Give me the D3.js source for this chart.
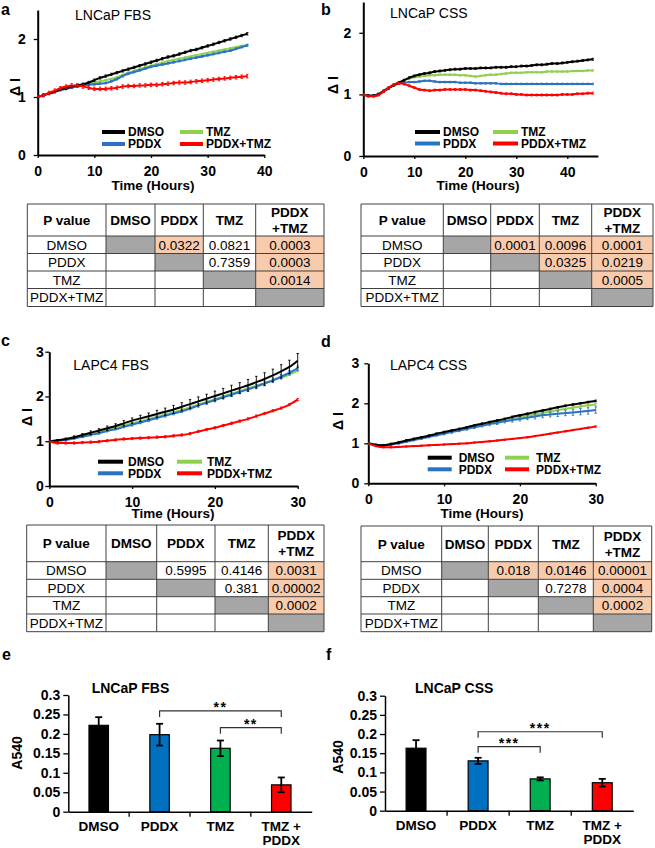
<!DOCTYPE html>
<html><head><meta charset="utf-8">
<script src="https://cdn.jsdelivr.net/npm/d3@7"></script>
<style>body{margin:0;background:#fff}svg text{font-family:"Liberation Sans",Arial,sans-serif}</style>
</head><body>
<svg id="fig" width="655" height="848"></svg>
<script>
// ---------------- DATA ----------------
const seriesNames = ["DMSO", "PDDX", "TMZ", "PDDX+TMZ"];
const lineColors = ["#000000", "#2a72c2", "#8fd14f", "#ff0000"];
const barColors = ["#000000", "#0070c0", "#00b050", "#ff0000"];

// Panel a: LNCaP FBS (hourly, 0-37 h)
const aHours = d3.range(0, 38);
const aDMSO = [1.00,1.03,1.06,1.09,1.13,1.15,1.18,1.20,1.22,1.25, 1.29,1.33,1.36,1.39,1.42,1.45,1.48,1.51,1.54,1.57, 1.60,1.63,1.66,1.69,1.71,1.74,1.77,1.80,1.82,1.85, 1.88,1.91,1.94,1.97,2.00,2.03,2.06,2.09];
const aPDDX = [1.00,1.03,1.06,1.09,1.12,1.14,1.16,1.18,1.20,1.21, 1.22,1.23,1.24,1.27,1.31,1.36,1.40,1.43,1.46,1.49, 1.52,1.54,1.56,1.58,1.60,1.62,1.64,1.66,1.68,1.70, 1.72,1.74,1.76,1.78,1.80,1.83,1.86,1.89];
const aTMZ  = [1.00,1.03,1.06,1.09,1.12,1.15,1.17,1.19,1.21,1.23, 1.25,1.27,1.29,1.31,1.34,1.38,1.42,1.45,1.48,1.51, 1.54,1.57,1.59,1.62,1.64,1.66,1.68,1.70,1.72,1.74, 1.76,1.78,1.80,1.82,1.84,1.86,1.88,1.90];
const aCombo= [1.00,1.03,1.07,1.11,1.15,1.18,1.20,1.20,1.18,1.16, 1.14,1.14,1.14,1.15,1.16,1.18,1.19,1.19,1.20,1.20, 1.21,1.21,1.22,1.23,1.24,1.25,1.25,1.26,1.27,1.28, 1.29,1.30,1.31,1.32,1.33,1.34,1.35,1.36];
const aErr = [0.02, 0.015, 0.012, 0.03];

// Panel b: LNCaP CSS (hourly, 0-45 h)
const bHours = d3.range(0, 46);
const bDMSO = [1.00,0.98,0.98,1.00,1.05,1.10,1.15,1.19,1.23,1.27, 1.30,1.32,1.34,1.35,1.37,1.38,1.39,1.40,1.41,1.41, 1.42,1.42,1.42,1.43,1.43,1.43,1.44,1.44,1.44,1.45, 1.45,1.46,1.46,1.47,1.48,1.48,1.49,1.50,1.50,1.51, 1.52,1.53,1.54,1.55,1.56,1.57];
const bPDDX = [1.00,0.98,0.98,1.01,1.06,1.11,1.15,1.18,1.19,1.20, 1.20,1.21,1.22,1.22,1.21,1.20,1.20,1.20,1.20,1.19, 1.19,1.19,1.18,1.18,1.18,1.18,1.18,1.17,1.17,1.17, 1.17,1.17,1.17,1.17,1.17,1.17,1.17,1.17,1.17,1.17, 1.17,1.17,1.17,1.17,1.17,1.17];
const bTMZ  = [1.00,0.98,0.98,1.01,1.06,1.11,1.16,1.20,1.23,1.26, 1.28,1.29,1.30,1.31,1.31,1.32,1.32,1.32,1.32,1.31, 1.31,1.30,1.29,1.30,1.31,1.32,1.32,1.33,1.34,1.35, 1.35,1.35,1.36,1.36,1.36,1.36,1.37,1.37,1.37,1.37, 1.37,1.38,1.38,1.38,1.39,1.39];
const bCombo= [1.00,0.97,0.97,0.99,1.05,1.11,1.16,1.18,1.17,1.14, 1.11,1.08,1.07,1.06,1.07,1.07,1.08,1.08,1.08,1.08, 1.08,1.07,1.07,1.06,1.05,1.04,1.03,1.02,1.01,1.01, 1.00,1.00,0.99,0.99,0.99,0.99,0.99,0.99,0.99,1.00, 1.00,1.00,1.01,1.01,1.02,1.02];
const bErr = [0.015, 0.012, 0.012, 0.015];

// Panel c: LAPC4 FBS (hourly, 0-30 h)
const cHours = d3.range(0, 31);
const cDMSO = [1.00,1.02,1.05,1.09,1.14,1.19,1.24,1.29,1.34,1.40, 1.46,1.51,1.56,1.61,1.66,1.71,1.77,1.83,1.89,1.95, 2.01,2.07,2.13,2.19,2.25,2.32,2.39,2.47,2.56,2.66, 2.80];
const cPDDX = [1.00,1.01,1.03,1.06,1.10,1.14,1.18,1.23,1.27,1.32, 1.37,1.42,1.47,1.52,1.57,1.62,1.67,1.73,1.80,1.86, 1.92,1.98,2.04,2.10,2.16,2.22,2.29,2.36,2.44,2.53, 2.63];
const cTMZ  = [1.00,1.02,1.05,1.09,1.13,1.17,1.22,1.26,1.30,1.35, 1.40,1.45,1.50,1.55,1.60,1.65,1.70,1.76,1.82,1.88, 1.94,2.00,2.06,2.12,2.18,2.24,2.30,2.36,2.42,2.49, 2.57];
const cCombo= [1.00,0.96,0.96,0.96,0.97,0.98,0.99,1.01,1.03,1.05, 1.06,1.07,1.08,1.09,1.10,1.12,1.14,1.17,1.22,1.26, 1.30,1.35,1.40,1.45,1.50,1.56,1.62,1.68,1.74,1.82, 1.93];
const cDMSOerr = [0,.02,.02,.03,.03,.04,.04,.05,.05,.06, .06,.07,.07,.08,.08,.09,.09,.10,.10,.10, .11,.11,.12,.12,.13,.13,.14,.14,.15,.15, .16];
const cPDDXerr = [0,.01,.01,.01,.02,.02,.02,.02,.02,.02, .03,.03,.03,.03,.03,.03,.03,.03,.04,.04, .04,.04,.04,.04,.05,.05,.05,.05,.05,.05, .05];
const cErr = [cDMSOerr, cPDDXerr, 0.02, 0.025];

// Panel d: LAPC4 CSS (hourly, 0-30 h)
const dHours = d3.range(0, 31);
const dDMSO = [1.00,0.96,0.95,0.98,1.02,1.07,1.11,1.15,1.19,1.24, 1.28,1.32,1.36,1.40,1.45,1.49,1.53,1.57,1.61,1.66, 1.70,1.74,1.78,1.82,1.86,1.90,1.94,1.97,2.00,2.03, 2.06];
const dPDDX = [1.00,0.96,0.95,0.97,1.00,1.04,1.08,1.12,1.16,1.20, 1.24,1.28,1.32,1.36,1.40,1.44,1.48,1.51,1.55,1.58, 1.61,1.64,1.67,1.70,1.72,1.74,1.76,1.77,1.79,1.81, 1.83];
const dTMZ  = [1.00,0.96,0.95,0.98,1.02,1.06,1.10,1.14,1.18,1.22, 1.26,1.30,1.34,1.38,1.42,1.46,1.50,1.54,1.58,1.62, 1.65,1.69,1.72,1.76,1.79,1.83,1.86,1.89,1.92,1.95, 1.97];
const dCombo= [1.00,0.93,0.90,0.90,0.91,0.92,0.93,0.94,0.95,0.96, 0.97,0.98,0.99,1.00,1.02,1.03,1.05,1.07,1.09,1.11, 1.13,1.15,1.18,1.21,1.24,1.27,1.30,1.33,1.36,1.39, 1.42];
const dPDDXerr = [0,.01,.01,.01,.02,.02,.02,.02,.02,.02, .03,.03,.03,.03,.03,.03,.04,.04,.04,.05, .05,.05,.06,.06,.06,.07,.07,.07,.08,.08, .08];
const dErr = [0.02, dPDDXerr, 0.03, 0.015];

// Tick labels
const yTicksAB = [0, 1, 2];
const yTicksCD = [0, 1, 2, 3];
const xTicksA = [0, 10, 20, 30, 40];
const xTicksB = [0, 10, 20, 30, 40];
const xTicksCD = [0, 10, 20, 30];

// P-value tables (upper triangle, row by row)
const tableHeaders = ["P value", "DMSO", "PDDX", "TMZ", "PDDX\n+TMZ"];
const tableRows = ["DMSO", "PDDX", "TMZ", "PDDX+TMZ"];
const pA = [["0.0322", "0.0821", "0.0003"], ["0.7359", "0.0003"], ["0.0014"]];
const pB = [["0.0001", "0.0096", "0.0001"], ["0.0325", "0.0219"], ["0.0005"]];
const pC = [["0.5995", "0.4146", "0.0031"], ["0.381", "0.00002"], ["0.0002"]];
const pD = [["0.018", "0.0146", "0.00001"], ["0.7278", "0.0004"], ["0.0002"]];

// Bar charts (A540)
const barCategories = ["DMSO", "PDDX", "TMZ", "TMZ +\nPDDX"];
const eValues = [0.222, 0.198, 0.163, 0.069];
const eErrors = [0.021, 0.028, 0.020, 0.019];
const fValues = [0.163, 0.130, 0.083, 0.073];
const fErrors = [0.021, 0.008, 0.004, 0.010];
const barTicks = [0, 0.05, 0.1, 0.15, 0.2, 0.25, 0.3];
const eBrackets = [{from: 1, to: 3, level: 0.259, label: "**"}, {from: 2, to: 3, level: 0.216, label: "**"}];
const fBrackets = [{from: 1, to: 3, level: 0.206, label: "***"}, {from: 1, to: 2, level: 0.167, label: "***"}];

// ---------------- DRAWING ----------------
const svg = d3.select("#fig");
const FONT = '"Liberation Sans", Arial, sans-serif';

function styleAxis(g, sw) {
  g.select(".domain").attr("stroke", "#000").attr("stroke-width", sw);
  g.selectAll(".tick line").attr("stroke", "#000").attr("stroke-width", 1.3);
  g.selectAll(".tick text").attr("font-size", 14).attr("font-weight", "bold").attr("fill", "#000").attr("font-family", FONT);
}

function text(g, x, y, s, opts = {}) {
  const t = g.append("text").attr("x", x).attr("y", y).text(s)
    .attr("font-size", opts.size || 13).attr("font-weight", opts.bold ? "bold" : "normal")
    .attr("text-anchor", opts.anchor || "start").attr("fill", "#000");
  if (opts.rotate) t.attr("transform", `rotate(-90,${x},${y})`);
  return t;
}

function linePanel(c) {
  const g = svg.append("g");
  const x = d3.scaleLinear().domain(c.xDomain).range(c.xRange);
  const y = d3.scaleLinear().domain(c.yDomain).range(c.yRange);
  const gy = g.append("g").attr("transform", `translate(${c.xRange[0]},0)`)
    .call(d3.axisLeft(y).tickValues(c.yTicks).tickSize(4).tickSizeOuter(0).tickPadding(c.yPad).tickFormat(d3.format("d")));
  const gx = g.append("g").attr("transform", `translate(0,${c.yRange[0]})`)
    .call(d3.axisBottom(x).tickValues(c.xTicks).tickSize(3).tickSizeOuter(0).tickPadding(c.xPad).tickFormat(d3.format("d")));
  styleAxis(gy, 2); styleAxis(gx, 2);

  const order = [2, 1, 0, 3];
  order.forEach(si => {
    const vals = c.series[si];
    const err = c.errors[si];
    const pts = vals.map((v, i) => ({t: c.hours[i], v, e: Array.isArray(err) ? err[i] : (i === 0 ? 0 : err)}));
    const col = lineColors[si];
    const eb = g.append("g").attr("stroke", col).attr("stroke-width", 0.9);
    pts.forEach(p => {
      if (p.e <= 0) return;
      const px = x(p.t);
      eb.append("line").attr("x1", px).attr("x2", px).attr("y1", y(p.v - p.e)).attr("y2", y(p.v + p.e));
      eb.append("line").attr("x1", px - 1.2).attr("x2", px + 1.2).attr("y1", y(p.v + p.e)).attr("y2", y(p.v + p.e));
      eb.append("line").attr("x1", px - 1.2).attr("x2", px + 1.2).attr("y1", y(p.v - p.e)).attr("y2", y(p.v - p.e));
    });
    g.append("path").datum(pts).attr("fill", "none").attr("stroke", col).attr("stroke-width", 2)
      .attr("d", d3.line().x(p => x(p.t)).y(p => y(p.v)).curve(d3.curveMonotoneX));
  });

  // legend
  const L = c.legend;
  const pos = [[L.x1, L.y1], [L.x1, L.y2], [L.x2, L.y1], [L.x2, L.y2]];
  seriesNames.forEach((n, i) => {
    const [lx, ly] = pos[i];
    g.append("line").attr("x1", lx).attr("x2", lx + L.len).attr("y1", ly).attr("y2", ly)
      .attr("stroke", lineColors[i]).attr("stroke-width", 4);
    text(g, lx + L.len + L.gap, ly + 4.3, n, {size: 12, bold: true});
  });

  text(g, c.title[0], c.title[1], c.titleText, {size: 14});
  text(g, c.xlab[0], c.xlab[1], "Time (Hours)", {size: 13.5, bold: true, anchor: "middle"});
  text(g, c.ylab[0], c.ylab[1], "Δ I", {size: 14, bold: true, anchor: "middle", rotate: true});
  text(g, c.letter[0], c.letter[1], c.letterText, {size: 16, bold: true});
}

function pTable(cols, rows, pv) {
  const g = svg.append("g");
  const fs = 13.5;
  const isSig = s => s !== "" && parseFloat(s) < 0.05;
  for (let r = 0; r < 4; r++) {
    for (let cI = 0; cI < 4; cI++) {
      const x0 = cols[cI + 1], x1 = cols[cI + 2], y0 = rows[r + 1], y1 = rows[r + 2];
      let fill = "#fff", val = "";
      if (r === cI) fill = "#a6a6a6";
      else if (cI > r) { val = pv[r][cI - r - 1]; if (isSig(val)) fill = "#f8cbad"; }
      g.append("rect").attr("x", x0).attr("y", y0).attr("width", x1 - x0).attr("height", y1 - y0).attr("fill", fill);
      if (val) text(g, (x0 + x1) / 2, (y0 + y1) / 2 + fs * 0.36, val, {size: fs, anchor: "middle"});
    }
    text(g, (cols[0] + cols[1]) / 2, (rows[r + 1] + rows[r + 2]) / 2 + fs * 0.36, tableRows[r], {size: fs, anchor: "middle"});
  }
  tableHeaders.forEach((h, i) => {
    const cx = (cols[i] + cols[i + 1]) / 2, cy = (rows[0] + rows[1]) / 2;
    const lines = h.split("\n");
    lines.forEach((ln, k) => {
      const yy = cy + (k - (lines.length - 1) / 2) * 16 + fs * 0.36;
      text(g, cx, yy, ln, {size: fs, bold: true, anchor: "middle"});
    });
  });
  const grid = g.append("g").attr("stroke", "#404040").attr("stroke-width", 1);
  cols.forEach(cx => grid.append("line").attr("x1", cx).attr("x2", cx).attr("y1", rows[0]).attr("y2", rows[rows.length - 1]));
  rows.forEach(ry => grid.append("line").attr("x1", cols[0]).attr("x2", cols[cols.length - 1]).attr("y1", ry).attr("y2", ry));
}

function barPanel(c) {
  const g = svg.append("g");
  const x = d3.scaleBand().domain(barCategories).range(c.xRange).paddingInner(0.68).paddingOuter(0.34);
  const y = d3.scaleLinear().domain([0, 0.3]).range(c.yRange);
  const gy = g.append("g").attr("transform", `translate(${c.xRange[0]},0)`)
    .call(d3.axisLeft(y).tickValues(barTicks).tickSize(5).tickSizeOuter(0).tickPadding(3).tickFormat(d => d3.format("")(+d.toFixed(2))));
  styleAxis(gy, 1.5);
  const gx = g.append("g").attr("transform", `translate(0,${c.yRange[0]})`)
    .call(d3.axisBottom(x).tickSize(0).tickSizeOuter(0).tickFormat(""));
  styleAxis(gx, 1.5);
  const bw = x.bandwidth(), step = x.step();
  barCategories.slice(0, 3).forEach(cat => {
    const bx = x(cat) + bw / 2 + step / 2;
    g.append("line").attr("x1", bx).attr("x2", bx).attr("y1", c.yRange[0]).attr("y2", c.yRange[0] + 5).attr("stroke", "#000").attr("stroke-width", 1.3);
  });
  barCategories.forEach((cat, i) => {
    const cx = x(cat) + bw / 2;
    cat.split("\n").forEach((ln, k) => text(g, cx, c.yRange[0] + 19 + k * 14.5, ln, {size: 13.5, bold: true, anchor: "middle"}));
    g.append("rect").attr("x", x(cat)).attr("y", y(c.values[i])).attr("width", bw).attr("height", y(0) - y(c.values[i]))
      .attr("fill", barColors[i]).attr("stroke", "#000").attr("stroke-width", 1.2);
    const hi = y(c.values[i] + c.errors[i]), lo = y(c.values[i] - c.errors[i]);
    const eg = g.append("g").attr("stroke", "#000").attr("stroke-width", 1.8);
    eg.append("line").attr("x1", cx).attr("x2", cx).attr("y1", hi).attr("y2", lo);
    eg.append("line").attr("x1", cx - 3.5).attr("x2", cx + 3.5).attr("y1", hi).attr("y2", hi);
    eg.append("line").attr("x1", cx - 3.5).attr("x2", cx + 3.5).attr("y1", lo).attr("y2", lo);
  });
  c.brackets.forEach(b => {
    const x1 = x(barCategories[b.from]) + bw / 2, x2 = x(barCategories[b.to]) + bw / 2, yy = y(b.level);
    g.append("path").attr("d", `M${x1},${yy + 6}V${yy}H${x2}V${yy + 6}`).attr("fill", "none").attr("stroke", "#333").attr("stroke-width", 1.2);
    text(g, (x1 + x2) / 2, yy + 1, b.label, {size: 14, bold: true, anchor: "middle"}).attr("letter-spacing", 1.5);
  });
  text(g, c.title[0], c.title[1], c.titleText, {size: 14, bold: true});
  text(g, c.ylab[0], c.ylab[1], "A540", {size: 14, bold: true, anchor: "middle", rotate: true});
  text(g, c.letter[0], c.letter[1], c.letterText, {size: 16, bold: true});
}

linePanel({hours: aHours, series: [aDMSO, aPDDX, aTMZ, aCombo], errors: aErr,
  xDomain: [0, 40], xRange: [37.7, 264.3], yDomain: [0, 2.5], yRange: [155, 10],
  yTicks: yTicksAB, xTicks: xTicksA, yPad: 8, xPad: 8,
  legend: {x1: 102, x2: 180, y1: 132, y2: 144, len: 23, gap: 3},
  title: [75, 20], titleText: "LNCaP FBS", xlab: [153, 190], ylab: [20, 87], letter: [1, 15], letterText: "a"});
linePanel({hours: bHours, series: [bDMSO, bPDDX, bTMZ, bCombo], errors: bErr,
  xDomain: [0, 46], xRange: [363.3, 597.9], yDomain: [0, 2.5], yRange: [156, 2],
  yTicks: yTicksAB, xTicks: xTicksB, yPad: 8, xPad: 8,
  legend: {x1: 415, x2: 493, y1: 132, y2: 143.5, len: 25, gap: 3},
  title: [390, 18], titleText: "LNCaP CSS", xlab: [478, 190], ylab: [338, 85], letter: [321, 15], letterText: "b"});
linePanel({hours: cHours, series: [cDMSO, cPDDX, cTMZ, cCombo], errors: cErr,
  xDomain: [0, 30], xRange: [49.3, 297.7], yDomain: [0, 3], yRange: [486, 351.7],
  yTicks: yTicksCD, xTicks: xTicksCD, yPad: 1.5, xPad: 8,
  legend: {x1: 98, x2: 177, y1: 461.7, y2: 473.3, len: 25, gap: 5},
  title: [73.3, 370], titleText: "LAPC4 FBS", xlab: [173, 518], ylab: [32, 417], letter: [1, 346], letterText: "c"});
linePanel({hours: dHours, series: [dDMSO, dPDDX, dTMZ, dCombo], errors: dErr,
  xDomain: [0, 30], xRange: [368.3, 595.7], yDomain: [0, 3], yRange: [483.3, 363.3],
  yTicks: yTicksCD, xTicks: xTicksCD, yPad: 5, xPad: 8,
  legend: {x1: 427.7, x2: 505, y1: 457.7, y2: 469.3, len: 24, gap: 7},
  title: [390, 370], titleText: "LAPC4 CSS", xlab: [482, 518], ylab: [343, 421], letter: [321, 347], letterText: "d"});

pTable([27.3, 106, 155, 203.3, 255.7, 324], [204, 236, 253.5, 271, 288.5, 306.5], pA);
pTable([361, 443.3, 490.7, 539.3, 591.7, 653], [204, 236, 253.5, 271, 288.5, 306.5], pB);
pTable([26.7, 106, 156.7, 215, 268.3, 324], [525, 561.7, 579.3, 596.7, 614, 631.7], pC);
pTable([361, 441.7, 488.3, 538.3, 593.3, 651.7], [526, 561.7, 579.3, 596.7, 614, 631.7], pD);

barPanel({values: eValues, errors: eErrors, brackets: eBrackets, xRange: [68.3, 311.7], yRange: [811.7, 695],
  title: [91.7, 693], titleText: "LNCaP FBS", ylab: [22, 753], letter: [2, 660], letterText: "e"});
barPanel({values: fValues, errors: fErrors, brackets: fBrackets, xRange: [385, 633.3], yRange: [810.7, 695.7],
  title: [415, 693], titleText: "LNCaP CSS", ylab: [343, 757], letter: [326, 660], letterText: "f"});
</script>
</body></html>
